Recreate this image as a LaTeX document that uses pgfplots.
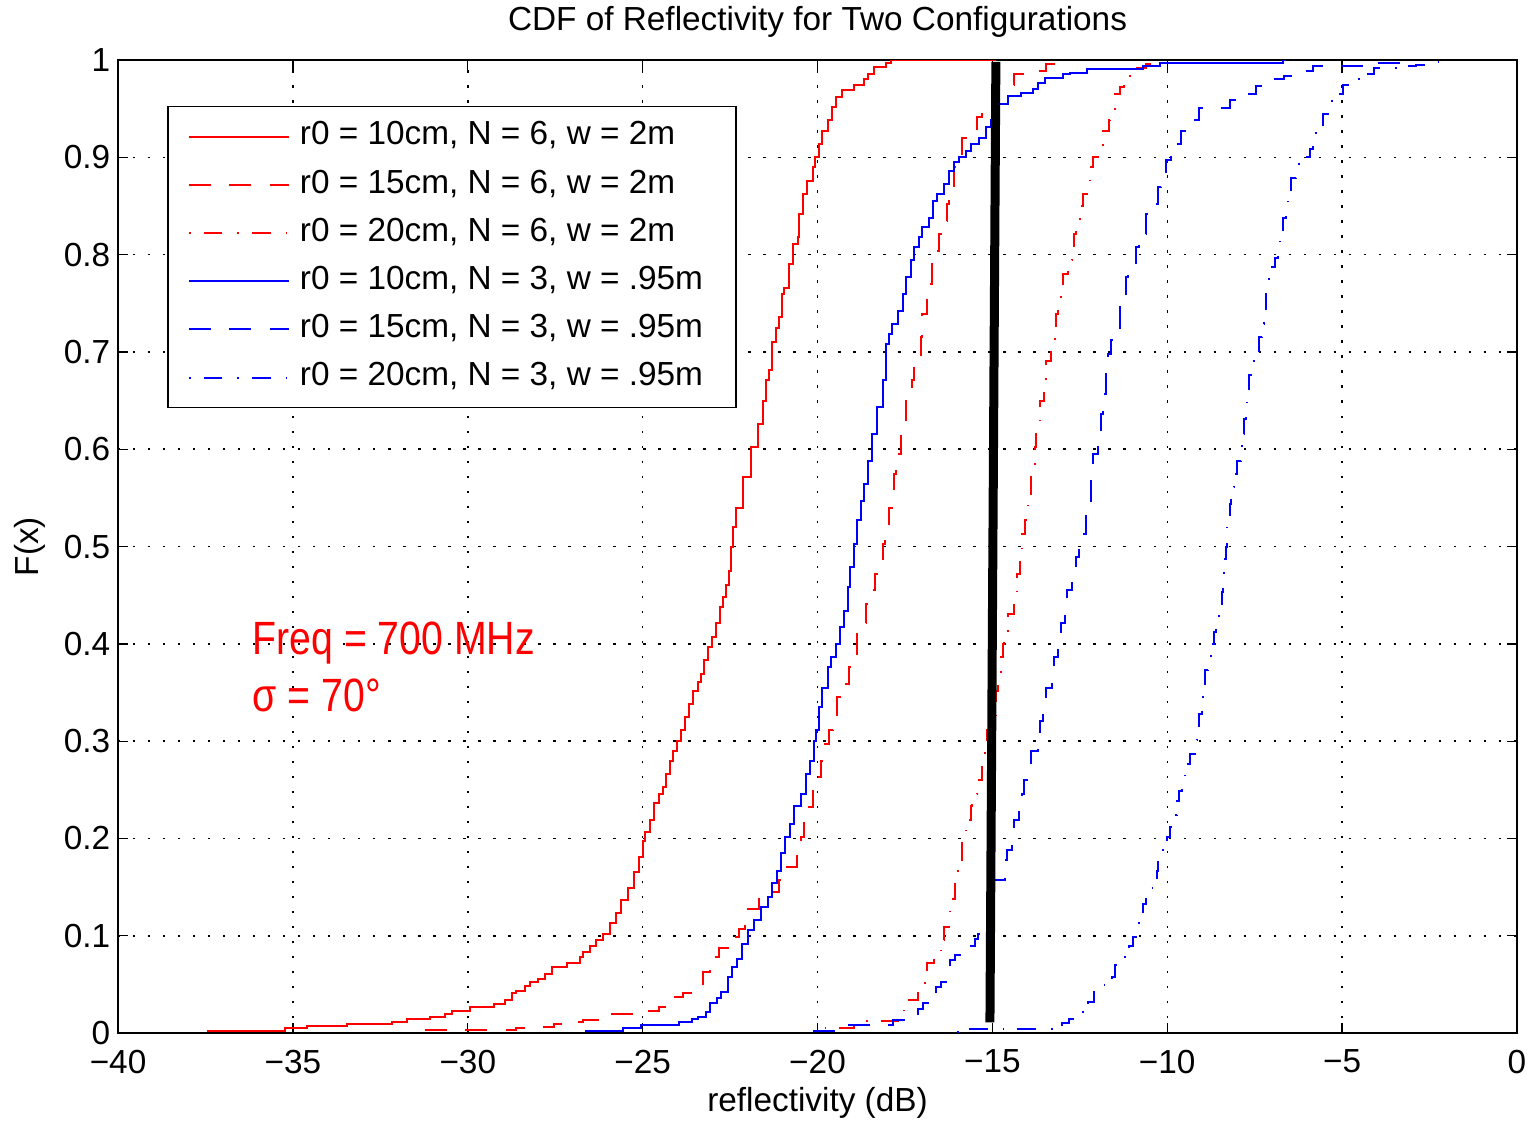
\documentclass[border=0pt]{standalone}
\usepackage{fontspec}
\setmainfont{Liberation Sans}
\usepackage{pgfplots}
\pgfplotsset{compat=1.18}
\begin{document}
\fontsize{10}{12}\selectfont
\begin{tikzpicture}
\begin{axis}[
  scale only axis, width=419.5pt, height=291.8pt,
  xmin=-40, xmax=0, ymin=0, ymax=1,
  xtick={-40,-35,-30,-25,-20,-15,-10,-5,0},
  xticklabels={−40,−35,−30,−25,−20,−15,−10,−5,0},
  ytick={0,0.1,0.2,0.3,0.4,0.5,0.6,0.7,0.8,0.9,1},
  yticklabels={0,0.1,0.2,0.3,0.4,0.5,0.6,0.7,0.8,0.9,1},
  tick align=inside, xtick pos=both, ytick pos=both,
  major tick length=3pt,
  tick style={black, line width=0.4pt},
  axis line style={black, line width=0.5pt},
  grid=major,
  major grid style={black, line width=0.45pt, dash pattern=on 0.7pt off 3.8pt},
  tick label style={font=\fontsize{10}{12}\selectfont},
  xticklabel style={yshift=-1.5pt},
  yticklabel style={xshift=1.2pt},
  label style={font=\fontsize{10}{12}\selectfont},
  title style={font=\fontsize{10}{12}\selectfont, at={(axis description cs:0.5,1)}, anchor=base, yshift=2.7pt},
  title={CDF of Reflectivity for Two Configurations},
  xlabel={reflectivity (dB)},
  xlabel style={at={(axis description cs:0.5,-0.072)}, anchor=center},
  ylabel={F(x)},
  ylabel style={at={(axis description cs:-0.0629,0.5)}, anchor=center},
  legend style={at={(axis cs:-38.6,0.953)}, anchor=north west, draw=black, line width=0.5pt, fill=white,
    font=\fontsize{10}{12}\selectfont, inner xsep=6pt, inner ysep=4pt, row sep=4.45pt, column sep=3pt,
    nodes={inner sep=0pt, text height=7.5pt, text depth=2.5pt}},
  legend cell align=left,
  legend image code/.code={\draw[#1] (0pt,0pt) -- (30pt,0pt);},
  every axis plot/.append style={line width=0.6pt},
]
% r0 = 10cm, N = 6, w = 2m
\addplot[red, const plot] coordinates {
(-37.46,0.002) (-35.23,0.0048) (-34.59,0.0072) (-33.45,0.0089) (-32.18,0.0116) (-31.73,0.014) (-31.09,0.0168)
(-30.65,0.020) (-30.46,0.023) (-29.95,0.027) (-29.25,0.030) (-28.93,0.034) (-28.74,0.041) (-28.61,0.0435)
(-28.36,0.048) (-28.23,0.053) (-27.98,0.056) (-27.79,0.061) (-27.60,0.068) (-27.15,0.0716) (-26.79,0.078)
(-26.7,0.0836) (-26.51,0.090) (-26.32,0.0955) (-26.13,0.102) (-25.94,0.113) (-25.75,0.123) (-25.62,0.137)
(-25.43,0.149) (-25.24,0.166) (-25.11,0.181) (-24.99,0.197) (-24.92,0.207) (-24.79,0.2185) (-24.67,0.236)
(-24.54,0.246) (-24.43,0.253) (-24.33,0.266) (-24.22,0.28) (-24.14,0.290) (-24.03,0.3) (-23.9,0.311)
(-23.78,0.325) (-23.67,0.338) (-23.57,0.352) (-23.43,0.361) (-23.33,0.369) (-23.26,0.383) (-23.14,0.397)
(-23.02,0.407) (-22.9,0.421) (-22.79,0.438) (-22.7,0.448) (-22.62,0.46) (-22.54,0.475) (-22.48,0.5)
(-22.41,0.52) (-22.33,0.54) (-22.14,0.571) (-21.9,0.602) (-21.71,0.626) (-21.57,0.65) (-21.48,0.671)
(-21.38,0.681) (-21.3,0.71) (-21.19,0.725) (-21.1,0.736) (-21.02,0.76) (-20.95,0.766) (-20.81,0.79)
(-20.71,0.811) (-20.57,0.818) (-20.52,0.842) (-20.41,0.862) (-20.29,0.876) (-20.14,0.89) (-20.07,0.9)
(-19.95,0.914) (-19.86,0.927) (-19.71,0.938) (-19.59,0.952) (-19.46,0.962) (-19.29,0.969) (-18.95,0.974)
(-18.67,0.98) (-18.57,0.986) (-18.38,0.993) (-18.05,0.997) (-17.9,1.0) (-14.9,1.0)
};
\addlegendentry{\makebox[124.7pt][l]{r0 = 10cm, N = 6, w = 2m}}
% r0 = 15cm, N = 6, w = 2m
\addplot[red, const plot, dash pattern=on 6.6pt off 5.5pt] coordinates {
(-31.22,0.003) (-28.61,0.0055) (-27.98,0.0065) (-27.53,0.0093) (-26.9,0.0116) (-26.7,0.0133) (-26.07,0.0195)
(-24.99,0.023) (-24.54,0.0264) (-24.16,0.0373) (-23.84,0.0414) (-23.33,0.0476) (-23.27,0.063) (-23.08,0.0784)
(-22.82,0.087) (-22.5,0.099) (-22.25,0.1075) (-22.06,0.121) (-21.99,0.128) (-21.68,0.138) (-21.36,0.145)
(-21.1,0.157) (-20.92,0.171) (-20.6,0.188) (-20.47,0.202) (-20.38,0.218) (-20.29,0.232) (-20.14,0.253)
(-20.0,0.263) (-19.9,0.28) (-19.78,0.297) (-19.67,0.311) (-19.57,0.325) (-19.43,0.345) (-19.29,0.359)
(-19.11,0.376) (-19.02,0.39) (-18.86,0.41) (-18.76,0.421) (-18.62,0.441) (-18.52,0.455) (-18.35,0.472)
(-18.24,0.486) (-18.14,0.503) (-18.07,0.52) (-17.97,0.54) (-17.81,0.575) (-17.76,0.595) (-17.62,0.623)
(-17.48,0.65) (-17.29,0.671) (-17.24,0.691) (-17.05,0.715) (-17.02,0.739) (-16.86,0.753) (-16.81,0.77)
(-16.73,0.79) (-16.71,0.804) (-16.52,0.821) (-16.43,0.835) (-16.29,0.852) (-16.24,0.869) (-16.1,0.89)
(-16.03,0.9) (-15.86,0.92) (-15.67,0.927) (-15.43,0.941) (-15.29,0.955) (-14.81,0.969) (-14.67,0.974)
(-14.38,0.986) (-14.0,0.989) (-13.48,0.996) (-13.05,1.0) (-12.95,1.0)
};
\addlegendentry{r0 = 15cm, N = 6, w = 2m}
% r0 = 20cm, N = 6, w = 2m
\addplot[red, const plot, dash pattern=on 0.5pt off 3.9pt on 5.6pt off 4.5pt] coordinates {
(-19.8,0.005) (-18.95,0.012) (-17.71,0.017) (-17.52,0.027) (-17.39,0.034) (-17.12,0.045) (-16.93,0.058)
(-16.86,0.072) (-16.67,0.08) (-16.47,0.096) (-16.37,0.109) (-16.2,0.138) (-16.08,0.164) (-15.97,0.178)
(-15.88,0.198) (-15.84,0.207) (-15.75,0.219) (-15.62,0.233) (-15.57,0.246) (-15.43,0.26) (-15.29,0.284)
(-15.21,0.3) (-15.16,0.311) (-14.89,0.352) (-14.83,0.369) (-14.76,0.386) (-14.71,0.4) (-14.67,0.41)
(-14.54,0.431) (-14.38,0.451) (-14.29,0.472) (-14.22,0.486) (-14.14,0.513) (-14.07,0.527) (-14.0,0.54)
(-13.98,0.554) (-13.9,0.571) (-13.79,0.602) (-13.74,0.626) (-13.65,0.65) (-13.53,0.671) (-13.46,0.691)
(-13.31,0.708) (-13.22,0.725) (-13.17,0.739) (-13.12,0.753) (-13.03,0.766) (-12.98,0.78) (-12.84,0.794)
(-12.71,0.804) (-12.68,0.821) (-12.6,0.835) (-12.5,0.85) (-12.41,0.862) (-12.3,0.873) (-12.22,0.89)
(-12.12,0.9) (-11.98,0.911) (-11.84,0.927) (-11.67,0.938) (-11.63,0.948) (-11.5,0.965) (-11.36,0.972)
(-11.25,0.984) (-10.98,0.992) (-10.6,0.996) (-10.31,1.0) (-10.2,1.0)
};
\addlegendentry{r0 = 20cm, N = 6, w = 2m}
% r0 = 10cm, N = 3, w = .95m
\addplot[blue, const plot] coordinates {
(-26.64,0.0024) (-25.56,0.0048) (-25.05,0.0082) (-23.97,0.0116) (-23.59,0.014) (-23.42,0.0168) (-23.2,0.022)
(-23.07,0.0305) (-22.88,0.0356) (-22.76,0.0425) (-22.57,0.058) (-22.44,0.068) (-22.31,0.0757) (-22.15,0.092)
(-22.0,0.106) (-21.81,0.116) (-21.62,0.13) (-21.42,0.14) (-21.3,0.154) (-21.17,0.167) (-21.04,0.185)
(-20.92,0.202) (-20.79,0.215) (-20.66,0.233) (-20.48,0.246) (-20.33,0.266) (-20.22,0.28) (-20.1,0.3)
(-20.03,0.311) (-19.95,0.335) (-19.88,0.355) (-19.71,0.376) (-19.62,0.386) (-19.48,0.4) (-19.36,0.417)
(-19.24,0.434) (-19.14,0.458) (-19.08,0.479) (-18.95,0.503) (-18.86,0.527) (-18.76,0.547) (-18.67,0.564)
(-18.57,0.588) (-18.43,0.616) (-18.29,0.643) (-18.14,0.671) (-18.03,0.708) (-17.95,0.718) (-17.86,0.729)
(-17.71,0.742) (-17.57,0.76) (-17.48,0.777) (-17.33,0.794) (-17.24,0.808) (-17.1,0.818) (-17.0,0.828)
(-16.81,0.838) (-16.71,0.855) (-16.57,0.862) (-16.38,0.873) (-16.24,0.886) (-16.1,0.895) (-15.95,0.9)
(-15.76,0.907) (-15.62,0.914) (-15.38,0.92) (-15.19,0.931) (-15.05,0.938) (-14.81,0.955) (-14.55,0.963)
(-14.17,0.966) (-13.84,0.97) (-13.7,0.976) (-13.5,0.982) (-12.98,0.986) (-12.79,0.987) (-12.3,0.991)
(-10.7,0.994) (-10.2,0.997) (-6.7,1.0) (-6.6,1.0)
};
\addlegendentry{r0 = 10cm, N = 3, w = .95m}
% r0 = 15cm, N = 3, w = .95m
\addplot[blue, const plot, dash pattern=on 6.6pt off 5.5pt] coordinates {
(-20.13,0.0024) (-19.28,0.0082) (-17.84,0.0133) (-17.25,0.02) (-17.12,0.025) (-16.99,0.0305) (-16.73,0.0425)
(-16.6,0.0476) (-16.47,0.053) (-16.27,0.065) (-16.2,0.075) (-16.08,0.08) (-15.82,0.09) (-15.49,0.097)
(-15.4,0.102) (-15.23,0.113) (-15.16,0.123) (-14.97,0.157) (-14.64,0.178) (-14.58,0.188) (-14.44,0.208)
(-14.38,0.219) (-14.25,0.233) (-14.16,0.246) (-14.1,0.26) (-14.0,0.273) (-13.9,0.29) (-13.71,0.307)
(-13.65,0.321) (-13.55,0.342) (-13.48,0.355) (-13.3,0.376) (-13.24,0.386) (-13.11,0.407) (-13.05,0.421)
(-12.92,0.445) (-12.88,0.455) (-12.73,0.475) (-12.62,0.489) (-12.52,0.503) (-12.45,0.513) (-12.33,0.534)
(-12.29,0.547) (-12.17,0.575) (-12.12,0.595) (-11.98,0.616) (-11.89,0.636) (-11.84,0.657) (-11.74,0.677)
(-11.7,0.698) (-11.6,0.712) (-11.5,0.725) (-11.36,0.746) (-11.27,0.76) (-11.17,0.777) (-11.12,0.787)
(-10.89,0.808) (-10.81,0.821) (-10.6,0.842) (-10.5,0.852) (-10.27,0.869) (-10.17,0.883) (-10.03,0.897)
(-9.89,0.907) (-9.79,0.914) (-9.6,0.927) (-9.41,0.938) (-9.08,0.951) (-8.22,0.959) (-7.79,0.965)
(-7.46,0.973) (-7.27,0.98) (-6.65,0.984) (-6.3,0.989) (-5.84,0.994) (-4.03,0.997) (-3.0,1.0) (-2.9,1.0)
};
\addlegendentry{r0 = 15cm, N = 3, w = .95m}
% r0 = 20cm, N = 3, w = .95m
\addplot[blue, const plot, dash pattern=on 0.5pt off 3.9pt on 5.6pt off 4.5pt] coordinates {
(-16.01,0.001) (-15.69,0.0038) (-13.0,0.01) (-12.81,0.015) (-12.42,0.022) (-12.26,0.032) (-12.09,0.0425)
(-11.9,0.049) (-11.57,0.058) (-11.48,0.07) (-11.24,0.078) (-11.08,0.09) (-10.98,0.099) (-10.85,0.113)
(-10.69,0.133) (-10.61,0.14) (-10.46,0.149) (-10.3,0.167) (-10.26,0.178) (-10.13,0.188) (-10.0,0.202)
(-9.93,0.212) (-9.78,0.224) (-9.73,0.239) (-9.67,0.249) (-9.57,0.263) (-9.5,0.277) (-9.36,0.287)
(-9.21,0.301) (-9.14,0.314) (-9.1,0.328) (-9.02,0.342) (-8.97,0.359) (-8.92,0.373) (-8.83,0.386)
(-8.76,0.4) (-8.67,0.412) (-8.6,0.424) (-8.52,0.434) (-8.48,0.441) (-8.43,0.453) (-8.41,0.467)
(-8.38,0.479) (-8.35,0.487) (-8.33,0.5) (-8.3,0.513) (-8.29,0.532) (-8.22,0.544) (-8.17,0.548)
(-8.12,0.561) (-8.08,0.575) (-8.01,0.588) (-7.89,0.599) (-7.86,0.616) (-7.81,0.631) (-7.76,0.647)
(-7.72,0.66) (-7.67,0.676) (-7.53,0.691) (-7.46,0.7) (-7.38,0.715) (-7.29,0.729) (-7.22,0.742)
(-7.19,0.76) (-7.12,0.773) (-7.1,0.787) (-6.93,0.797) (-6.84,0.811) (-6.79,0.821) (-6.7,0.838)
(-6.6,0.852) (-6.55,0.862) (-6.46,0.879) (-6.31,0.893) (-6.17,0.9) (-5.93,0.909) (-5.84,0.92)
(-5.74,0.931) (-5.55,0.945) (-5.31,0.958) (-5.17,0.965) (-4.98,0.974) (-4.52,0.98) (-4.41,0.986)
(-4.08,0.992) (-3.36,0.994) (-2.89,0.995) (-2.4,0.998) (-2.0,1.0)
};
\addlegendentry{r0 = 20cm, N = 3, w = .95m}
% threshold line
\addplot[black, line width=2.7pt, forget plot] coordinates {(-15.07,0.011) (-14.9,0.998)};
\node[anchor=base west, inner sep=0pt, text=red] at (axis cs:-36.17,0.389)
  {\scalebox{0.84}[1]{\fontsize{14}{17}\selectfont Freq = 700 MHz}};
\node[anchor=base west, inner sep=0pt, text=red] at (axis cs:-36.17,0.330)
  {\scalebox{0.84}[1]{\fontsize{14}{17}\selectfont σ = 70°}};
\end{axis}
\pgfresetboundingbox
\path[use as bounding box] ([shift={(-35.4pt,-26.7pt)}]current axis.south west) rectangle ([shift={(5.1pt,18pt)}]current axis.north east);
\end{tikzpicture}
\end{document}
